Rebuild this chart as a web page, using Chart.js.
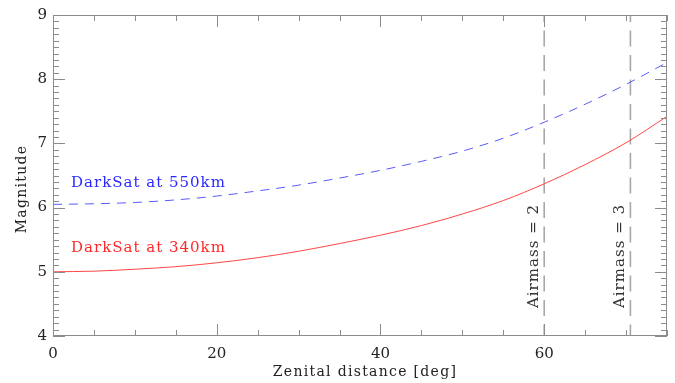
<!DOCTYPE html>
<html>
<head>
<meta charset="utf-8">
<script src="https://cdn.jsdelivr.net/npm/chart.js@4.4.1/dist/chart.umd.min.js"></script>
<style>
html,body{margin:0;padding:0;background:#fff;}
#wrap{width:675px;height:383px;position:relative;}
</style>
</head>
<body>
<div id="wrap"><canvas id="c" width="675" height="383"></canvas></div>
<script>
// Data
const zenith  = [0, 5, 10, 15, 20, 25, 30, 35, 40, 45, 50, 55, 60, 65, 70, 75];
const mag340  = [5.00, 5.01, 5.04, 5.08, 5.14, 5.22, 5.32, 5.44, 5.57, 5.72, 5.90, 6.11, 6.37, 6.67, 7.01, 7.42];
const mag550  = [6.05, 6.06, 6.08, 6.12, 6.18, 6.26, 6.35, 6.46, 6.58, 6.72, 6.88, 7.08, 7.33, 7.61, 7.92, 8.26];
const seriesLabels = ['DarkSat at 340km', 'DarkSat at 550km'];
const airmassZenith = [60, 70.53];
const airmassLabels = ['Airmass = 2', 'Airmass = 3'];
const xTickValues = [0, 20, 40, 60];
const yTickValues = [4, 5, 6, 7, 8, 9];
const xTitle = 'Zenital distance [deg]';
const yTitle = 'Magnitude';

const FONT = '"DejaVu Serif", "Liberation Serif", serif';
const AXIS = '#8c8c8c';

const pts = (xs, ys) => xs.map((x, i) => ({x: x, y: ys[i]}));

const datasets = [
  {label: seriesLabels[0], data: pts(zenith, mag340), borderColor: 'rgb(255,70,70)', borderWidth: 1, pointRadius: 0, showLine: true, cubicInterpolationMode: 'monotone'},
  {label: seriesLabels[1], data: pts(zenith, mag550), borderColor: 'rgb(90,90,255)', borderWidth: 1, borderDash: [9, 7], pointRadius: 0, showLine: true, cubicInterpolationMode: 'monotone'}
];
airmassZenith.forEach(z => datasets.push({
  label: 'airmass', data: [{x: z, y: 9}, {x: z, y: 4}], borderColor: '#a8a8a8', borderWidth: 1.6,
  borderDash: [16, 8.5], borderDashOffset: 9, pointRadius: 0, showLine: true
}));

const framePlugin = {
  id: 'frame',
  afterDatasetsDraw(chart) {
    const ctx = chart.ctx, a = chart.chartArea;
    const xs = chart.scales.x, ys = chart.scales.y;
    ctx.save();
    ctx.strokeStyle = AXIS; ctx.lineWidth = 1;
    ctx.strokeRect(Math.round(a.left) + 0.5, Math.round(a.top) + 0.5, Math.round(a.right - a.left) - 1, Math.round(a.bottom - a.top) - 1);
    ctx.beginPath();
    for (let v = 0; v <= 75; v += 5) {
      const px = Math.round(xs.getPixelForValue(v)) + 0.5;
      const len = (v % 20 === 0) ? 12 : 6;
      ctx.moveTo(px, a.bottom); ctx.lineTo(px, a.bottom - len);
      ctx.moveTo(px, a.top); ctx.lineTo(px, a.top + len);
    }
    for (let k = 40; k <= 90; k++) {
      const v = k / 10;
      const py = Math.round(ys.getPixelForValue(v)) + 0.5;
      const len = (k % 10 === 0) ? 12 : 6;
      ctx.moveTo(a.left, py); ctx.lineTo(a.left + len, py);
      ctx.moveTo(a.right, py); ctx.lineTo(a.right - len, py);
    }
    ctx.stroke();

    // series labels
    ctx.letterSpacing = '1px';
    ctx.font = '15px ' + FONT;
    ctx.textAlign = 'left'; ctx.textBaseline = 'alphabetic';
    ctx.fillStyle = 'rgb(40,40,255)';
    ctx.fillText(seriesLabels[1], 71, 187);
    ctx.fillStyle = 'rgb(255,40,40)';
    ctx.fillText(seriesLabels[0], 71, 252);

    // airmass labels
    ctx.fillStyle = '#333';
    ctx.font = '15px ' + FONT;
    airmassZenith.forEach((z, i) => {
      const px = xs.getPixelForValue(z);
      ctx.save();
      ctx.translate(px - 10, 256);
      ctx.rotate(-Math.PI / 2);
      ctx.textAlign = 'center'; ctx.textBaseline = 'middle';
      ctx.fillText(airmassLabels[i], 0, 0);
      ctx.restore();
    });

    // axis titles
    ctx.fillStyle = '#222';
    ctx.letterSpacing = '1.3px';
    ctx.font = '14px ' + FONT;
    ctx.textAlign = 'center'; ctx.textBaseline = 'middle';
    ctx.fillText(xTitle, (a.left + a.right) / 2 + 5, 372);
    ctx.save();
    ctx.translate(22, 189);
    ctx.rotate(-Math.PI / 2);
    ctx.fillText(yTitle, 0, 0);
    ctx.restore();
    ctx.restore();
  }
};

new Chart(document.getElementById('c'), {
  type: 'scatter',
  data: {datasets: datasets},
  options: {
    responsive: false, animation: false, devicePixelRatio: 1,
    layout: {padding: {top: 11, right: 8, left: 0, bottom: 0}},
    plugins: {legend: {display: false}, tooltip: {enabled: false}},
    scales: {
      x: {
        type: 'linear', min: 0, max: 75,
        afterBuildTicks: s => { s.ticks = xTickValues.map(v => ({value: v})); },
        afterFit: s => { s.height = 47; },
        grid: {display: false, drawTicks: false},
        border: {display: false},
        ticks: {padding: 9, color: '#222', font: {family: FONT, size: 15}, maxRotation: 0}
      },
      y: {
        type: 'linear', min: 4, max: 9,
        afterBuildTicks: s => { s.ticks = yTickValues.map(v => ({value: v})); },
        afterFit: s => { s.width = 53; },
        grid: {display: false, drawTicks: false},
        border: {display: false},
        ticks: {padding: 6, color: '#222', font: {family: FONT, size: 15}}
      }
    }
  },
  plugins: [framePlugin]
});
</script>
</body>
</html>
